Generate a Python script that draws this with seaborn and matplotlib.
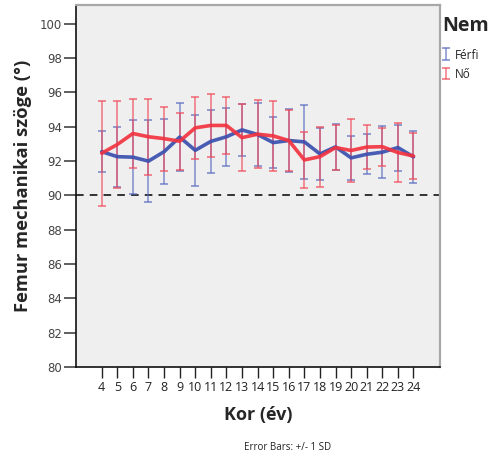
import numpy as np
import pandas as pd
import matplotlib
matplotlib.use("Agg")
import matplotlib.pyplot as plt
import seaborn as sns

# Age groups (years)
ages = [4, 5, 6, 7, 8, 9, 10, 11, 12, 13, 14, 15, 16, 17, 18, 19, 20, 21, 22, 23, 24]

# Mean mechanical femur angle and standard deviation, males
mean_male = [92.55, 92.26, 92.23, 92.0, 92.55, 93.4, 92.63, 93.15, 93.42, 93.82, 93.55,
             93.08, 93.2, 93.12, 92.42, 92.83, 92.19, 92.4, 92.52, 92.79, 92.25]
sd_male = [1.18, 1.75, 2.15, 2.37, 1.9, 1.97, 2.08, 1.82, 1.68, 1.52, 1.82,
           1.49, 1.82, 2.16, 1.52, 1.35, 1.28, 1.16, 1.52, 1.34, 1.53]

# Mean mechanical femur angle and standard deviation, females
mean_female = [92.46, 92.97, 93.61, 93.42, 93.31, 93.16, 93.94, 94.08, 94.08, 93.37, 93.57,
               93.47, 93.2, 92.07, 92.26, 92.79, 92.62, 92.82, 92.84, 92.5, 92.3]
sd_female = [3.07, 2.55, 2.0, 2.2, 1.87, 1.67, 1.79, 1.84, 1.66, 1.96, 1.98,
             2.06, 1.8, 1.65, 1.75, 1.3, 1.82, 1.29, 1.11, 1.7, 1.34]

groups = ["Férfi", "Nő"]
line_colors = {"Férfi": "#3a4fae", "Nő": "#f23340"}
bar_colors = {"Férfi": "#5a6cc0", "Nő": "#f04a58"}

pos = np.arange(len(ages))
df = pd.concat([
    pd.DataFrame({"pos": pos, "Kor": ages, "mean": mean_male, "sd": sd_male, "Nem": "Férfi"}),
    pd.DataFrame({"pos": pos, "Kor": ages, "mean": mean_female, "sd": sd_female, "Nem": "Nő"}),
], ignore_index=True)

sns.set_style("white")
plt.rcParams["font.family"] = ["Open Sans", "DejaVu Sans"]

fig = plt.figure(figsize=(4.92, 4.59), dpi=100)
ax = fig.add_axes([76 / 492, 92 / 459, 364 / 492, 362 / 459])
ax.set_facecolor("#efefef")

# +/- 1 SD error bars
for g in groups:
    sub = df[df["Nem"] == g]
    ax.errorbar(sub["pos"], sub["mean"], yerr=sub["sd"], fmt="none",
                ecolor=bar_colors[g], elinewidth=1.1, capsize=2.8, capthick=1.2,
                alpha=0.75, label=g, zorder=3)

# mean lines
sns.lineplot(data=df, x="pos", y="mean", hue="Nem", palette=line_colors,
             hue_order=groups, linewidth=2.6, alpha=0.92, legend=False,
             ax=ax, zorder=4, sort=False)

ax.axhline(90, color="black", linestyle=(0, (5, 4)), linewidth=1.1, zorder=2)

ax.set_xlim(-1.65, 21.7)
ax.set_ylim(80, 101.1)
ax.set_xticks(pos)
ax.set_xticklabels([str(a) for a in ages], fontsize=9, color="#222222")
ax.set_yticks(np.arange(80, 101, 2))
ax.set_yticklabels([str(v) for v in range(80, 101, 2)], fontsize=8.5,
                   color="#444444", family=["DejaVu Sans"])
ax.tick_params(axis="x", direction="out", length=8, width=1, color="#222222", pad=2)
ax.tick_params(axis="y", direction="out", length=9, width=1.2, color="#444444", pad=1)
ax.tick_params(axis="both", which="both", bottom=True, left=True)

for side in ["left", "bottom"]:
    ax.spines[side].set_color("#111111")
    ax.spines[side].set_linewidth(1.2)
for side in ["top", "right"]:
    ax.spines[side].set_color("#a8a8a8")
    ax.spines[side].set_linewidth(1.6)

ax.set_xlabel("Kor (év)", fontsize=13, fontweight="bold", labelpad=9)
ax.set_ylabel("Femur mechanikai szöge (°)", fontsize=13.2, fontweight="bold", labelpad=6)

leg = ax.legend(title="Nem", loc="upper left", bbox_to_anchor=(0.99, 0.985),
                frameon=False, fontsize=8.5, handlelength=0.6, handletextpad=0.5,
                handleheight=1.1, borderaxespad=0.3, borderpad=0.2, labelspacing=0.55)
leg.get_title().set_fontweight("bold")
leg.get_title().set_fontsize(14)
leg._legend_box.align = "left"
leg._legend_box.sep = 9

fig.text(288 / 492, 1 - 448 / 459, "Error Bars: +/- 1 SD", fontsize=7,
         ha="center", va="center", color="#222222")

fig.savefig("out.png", dpi=100)
